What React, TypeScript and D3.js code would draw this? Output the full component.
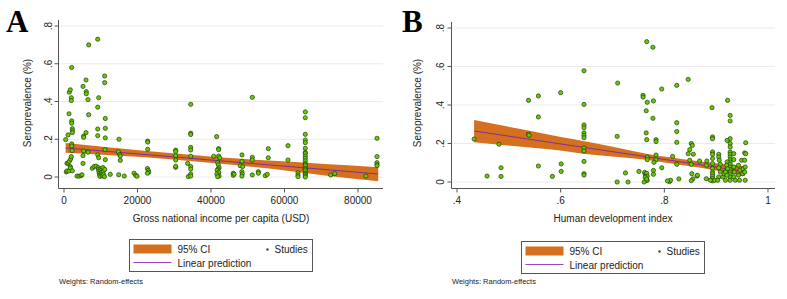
import React from 'react';
import * as d3 from 'd3';

// ---------- tick values ----------
const gniTicks = [0, 20000, 40000, 60000, 80000];
const gniTickLabels = ['0', '20000', '40000', '60000', '80000'];
const hdiTicks = [0.4, 0.6, 0.8, 1];
const hdiTickLabels = ['.4', '.6', '.8', '1'];
const seroTicks = [0, 0.2, 0.4, 0.6, 0.8];
const seroTickLabels = ['0', '.2', '.4', '.6', '.8'];

// ---------- panel A: GNI per capita vs seroprevalence ----------
const studiesA: [number, number][] = [
  [450, 0.198], [820, 0.072], [630, 0.027], [820, 0.032], [1090, 0.074], [1090, 0.223], [1360, 0.335],
  [1360, 0.032], [1440, 0.449], [1440, 0.083], [1720, 0.462], [1720, 0.055], [1720, 0.048], [1800, 0.095],
  [1990, 0.42], [1990, 0.405], [1990, 0.108], [2090, 0.58], [2090, 0.297], [2090, 0.285], [2090, 0.175],
  [2090, 0.164], [2270, 0.256], [2270, 0.245], [2270, 0.235], [2270, 0.033], [2200, 0.14],
  [3540, 0.005], [4080, 0.004], [4630, 0.007], [4900, 0.012], [5170, 0.48], [5170, 0.113], [5170, 0.072],
  [5350, 0.217], [5350, 0.21], [5350, 0.138], [5990, 0.514], [5990, 0.235], [6070, 0.452], [6070, 0.441],
  [6530, 0.41], [6530, 0.131], [6720, 0.70], [6720, 0.33], [7700, 0.046], [8160, 0.055], [8710, 0.058],
  [9170, 0.73], [9170, 0.37], [9170, 0.254], [9170, 0.219], [9170, 0.117], [9440, 0.42], [9440, 0.102],
  [9300, 0.05], [9400, 0.04], [9500, 0.03], [9600, 0.02], [9700, 0.01], [9800, 0.003], [10000, 0.045],
  [10100, 0.035], [10200, 0.025], [10300, 0.015], [10400, 0.006], [10600, 0.05], [10700, 0.03],
  [10800, 0.012], [11000, 0.002], [11100, 0.04],
  [11070, 0.535], [11070, 0.50], [11240, 0.31], [11240, 0.258], [11240, 0.207], [11150, 0.145], [11240, 0.092],
  [12600, 0.014], [14780, 0.134], [14880, 0.012], [14970, 0.2], [15160, 0.118], [15320, 0.111], [15320, 0.088],
  [16410, 0.005], [19050, 0.02], [19510, 0.009], [19860, 0.004],
  [22770, 0.19], [22770, 0.185], [22770, 0.147], [22700, 0.045], [22900, 0.035], [23050, 0.025], [22700, 0.02],
  [30390, 0.142], [30390, 0.135], [30390, 0.113], [30390, 0.09], [30390, 0.051], [30390, 0.057],
  [33650, 0.072], [33830, 0.002], [34480, 0.385], [34480, 0.232], [34480, 0.225], [34480, 0.157], [34480, 0.143],
  [34480, 0.11], [34480, 0.055], [34480, 0.042], [34480, 0.016], [34480, 0.005],
  [40730, 0.11], [41540, 0.214], [42080, 0.15], [42080, 0.145], [42080, 0.111], [42350, 0.102], [41800, 0.076],
  [42000, 0.065], [42200, 0.049], [41900, 0.042], [41700, 0.035], [42100, 0.024], [41600, 0.016], [42200, 0.005],
  [41800, 0.002],
  [46060, 0.02], [46060, 0.009], [46300, 0.015], [47970, 0.06], [48440, 0.117], [48440, 0.083], [48620, 0.055],
  [48400, 0.028], [48500, 0.017], [48400, 0.005],
  [51240, 0.422], [51240, 0.104], [51240, 0.09], [51240, 0.011], [52880, 0.028], [52880, 0.02], [54780, 0.007],
  [55320, 0.014], [55590, 0.15], [55590, 0.102],
  [60950, 0.166], [60950, 0.09], [63670, 0.023], [63670, 0.011], [63670, 0.002],
  [65660, 0.345], [65660, 0.314], [65660, 0.226], [65660, 0.196], [65660, 0.182], [65660, 0.152], [65660, 0.13],
  [65660, 0.125], [65660, 0.111], [65660, 0.099], [65660, 0.086], [65660, 0.072], [65660, 0.065], [65660, 0.06],
  [65660, 0.046], [65660, 0.04], [65660, 0.033], [65660, 0.02], [65660, 0.015], [65660, 0.007], [65660, 0.0],
  [72560, 0.011], [73650, 0.018], [82170, 0.005], [85170, 0.205], [85170, 0.108], [85170, 0.076],
  [85170, 0.065], [85170, 0.06],
];
const ciAx = [450, 14000, 28000, 42000, 57000, 71000, 85500];
const ciAhigh = [0.180, 0.153, 0.128, 0.104, 0.086, 0.069, 0.052];
const ciAlow = [0.128, 0.114, 0.096, 0.072, 0.042, 0.008, -0.022];
const fitAx = [450, 85500];
const fitAy = [0.154, 0.016];

// ---------- panel B: HDI vs seroprevalence ----------
const studiesB: [number, number][] = [
  [0.433, 0.223], [0.458, 0.031], [0.481, 0.196], [0.485, 0.074], [0.485, 0.029], [0.538, 0.424], [0.538, 0.248],
  [0.539, 0.243], [0.557, 0.447], [0.557, 0.338], [0.557, 0.083], [0.584, 0.029], [0.60, 0.464], [0.601, 0.094],
  [0.601, 0.055],
  [0.645, 0.578], [0.645, 0.403], [0.645, 0.296], [0.645, 0.282], [0.645, 0.255], [0.645, 0.242], [0.645, 0.23],
  [0.645, 0.177], [0.645, 0.161], [0.645, 0.107], [0.645, 0.043], [0.645, 0.036],
  [0.71, 0.514], [0.709, 0.237], [0.709, 0.0], [0.725, 0.047], [0.73, 0.0], [0.751, 0.055], [0.759, 0.45],
  [0.759, 0.441], [0.766, 0.729], [0.778, 0.70], [0.767, 0.414], [0.779, 0.421], [0.765, 0.37], [0.778, 0.331],
  [0.765, 0.255], [0.766, 0.22], [0.784, 0.22], [0.784, 0.21], [0.795, 0.483], [0.784, 0.14], [0.784, 0.116],
  [0.78, 0.102], [0.767, 0.13], [0.767, 0.116],
  [0.762, 0.05], [0.763, 0.04], [0.764, 0.03], [0.765, 0.02], [0.765, 0.01], [0.766, 0.045], [0.767, 0.03],
  [0.767, 0.008], [0.761, 0.0], [0.763, 0.025], [0.766, 0.015],
  [0.779, 0.06], [0.779, 0.04], [0.795, 0.074], [0.816, 0.133], [0.81, 0.002], [0.812, 0.009], [0.824, 0.502],
  [0.824, 0.308], [0.824, 0.262], [0.824, 0.206], [0.824, 0.092], [0.828, 0.016], [0.806, 0.006],
  [0.846, 0.533], [0.846, 0.147], [0.849, 0.168], [0.852, 0.2], [0.854, 0.19], [0.856, 0.144], [0.849, 0.113],
  [0.852, 0.092], [0.853, 0.043], [0.855, 0.016], [0.852, 0.007], [0.863, 0.031],
  [0.868, 0.109], [0.864, 0.035], [0.882, 0.109], [0.881, 0.087], [0.881, 0.017],
  [0.892, 0.386], [0.893, 0.234], [0.893, 0.225], [0.893, 0.156], [0.893, 0.144], [0.893, 0.122], [0.893, 0.096],
  [0.893, 0.07], [0.893, 0.052], [0.893, 0.043], [0.893, 0.03], [0.893, 0.018], [0.893, 0.006], [0.889, 0.009],
  [0.897, 0.009],
  [0.905, 0.144], [0.905, 0.13], [0.906, 0.113], [0.908, 0.092], [0.905, 0.074], [0.908, 0.052], [0.905, 0.026],
  [0.903, 0.009], [0.913, 0.026], [0.917, 0.052], [0.915, 0.043],
  [0.922, 0.424], [0.927, 0.346], [0.927, 0.317], [0.927, 0.225], [0.921, 0.216], [0.927, 0.2], [0.927, 0.182],
  [0.927, 0.156], [0.927, 0.144], [0.927, 0.13], [0.927, 0.116], [0.927, 0.104], [0.927, 0.092], [0.927, 0.078],
  [0.927, 0.065], [0.927, 0.052], [0.927, 0.04], [0.927, 0.026], [0.927, 0.009],
  [0.921, 0.104], [0.92, 0.087], [0.922, 0.069], [0.918, 0.052], [0.921, 0.035], [0.918, 0.009],
  [0.934, 0.147], [0.934, 0.116], [0.934, 0.078], [0.935, 0.052], [0.934, 0.026], [0.937, 0.009],
  [0.943, 0.087], [0.946, 0.061], [0.943, 0.035], [0.945, 0.009], [0.949, 0.113], [0.952, 0.069], [0.951, 0.043],
  [0.955, 0.151], [0.955, 0.113], [0.956, 0.078], [0.955, 0.052], [0.956, 0.009], [0.957, 0.204], [0.957, 0.147],
];
const ciBx = [0.433, 0.52, 0.603, 0.643, 0.70, 0.765, 0.81, 0.87, 0.955];
const ciBhigh = [0.322, 0.276, 0.232, 0.213, 0.183, 0.147, 0.128, 0.106, 0.082];
const ciBlow = [0.206, 0.184, 0.162, 0.147, 0.133, 0.116, 0.098, 0.074, 0.030];
const fitBx = [0.433, 0.955];
const fitBy = [0.265, 0.055];

const FONT = 'Liberation Sans, Arial, Helvetica, sans-serif';
const BAND = '#d5701f';
const LINE = '#7f2f9a';
const DOT = '#66cc00';
const DOT_EDGE = '#1f3a0a';

type PanelProps = {
  letter: string;
  letterX: number;
  studies: [number, number][];
  ciX: number[];
  ciHigh: number[];
  ciLow: number[];
  fitX: number[];
  fitY: number[];
  xDomain: [number, number];
  xRange: [number, number];
  yRange: [number, number];
  xTicks: number[];
  xTickLabels: string[];
  axisLeft: number;
  axisRight: number;
  axisTop: number;
  axisBottom: number;
  yTickLabelX: number;
  yTitleX: number;
  xTitle: string;
  xTitleX: number;
  legendX: number;
  legendY: number;
  weightsX: number;
};

function Panel(p: PanelProps) {
  const x = d3.scaleLinear().domain(p.xDomain).range(p.xRange);
  const y = d3.scaleLinear().domain([0, 0.8]).range(p.yRange);
  const ciData = p.ciX.map((v, i) => ({ x: v, lo: p.ciLow[i], hi: p.ciHigh[i] }));
  const area = d3
    .area<{ x: number; lo: number; hi: number }>()
    .x((d) => x(d.x))
    .y0((d) => y(d.lo))
    .y1((d) => y(d.hi))
    .curve(d3.curveMonotoneX);
  const line = d3
    .line<number>()
    .x((d) => x(d))
    .y((_, i) => y(p.fitY[i]));
  const lx = p.legendX;
  const ly = p.legendY;
  return (
    <g>
      <text x={p.letterX} y={32} fontFamily="Liberation Serif, Times New Roman, serif" fontWeight="bold" fontSize={31} fill="#000">
        {p.letter}
      </text>
      {seroTicks.map((t) => (
        <line key={'g' + t} x1={p.axisLeft} x2={p.axisRight} y1={y(t)} y2={y(t)} stroke="#ebebeb" strokeWidth={1} />
      ))}
      <path d={area(ciData) || ''} fill={BAND} />
      <path d={line(p.fitX) || ''} fill="none" stroke={LINE} strokeWidth={1} />
      {p.studies.map((d, i) => (
        <circle key={i} cx={x(d[0])} cy={y(d[1])} r={2.1} fill={DOT} stroke={DOT_EDGE} strokeWidth={0.7} />
      ))}
      {/* axes */}
      <line x1={p.axisLeft} x2={p.axisLeft} y1={p.axisTop} y2={p.axisBottom} stroke="#555" strokeWidth={1} />
      <line x1={p.axisLeft} x2={p.axisRight} y1={p.axisBottom} y2={p.axisBottom} stroke="#555" strokeWidth={1} />
      {seroTicks.map((t, i) => (
        <g key={'yt' + t}>
          <line x1={p.axisLeft - 4} x2={p.axisLeft} y1={y(t)} y2={y(t)} stroke="#555" strokeWidth={1} />
          <text
            transform={`translate(${p.yTickLabelX},${y(t)}) rotate(-90)`}
            textAnchor="middle"
            dy="0.35em"
            fontFamily={FONT}
            fontSize={10}
            fill="#222"
          >
            {seroTickLabels[i]}
          </text>
        </g>
      ))}
      {p.xTicks.map((t, i) => (
        <g key={'xt' + t}>
          <line x1={x(t)} x2={x(t)} y1={p.axisBottom} y2={p.axisBottom + 4} stroke="#555" strokeWidth={1} />
          <text x={x(t)} y={204} textAnchor="middle" fontFamily={FONT} fontSize={10} fill="#222">
            {p.xTickLabels[i]}
          </text>
        </g>
      ))}
      <text
        transform={`translate(${p.yTitleX},103) rotate(-90)`}
        textAnchor="middle"
        dy="0.35em"
        fontFamily={FONT}
        fontSize={10}
        fill="#222"
      >
        Seroprevalence (%)
      </text>
      <text x={p.xTitleX} y={222} textAnchor="middle" fontFamily={FONT} fontSize={10} fill="#222">
        {p.xTitle}
      </text>
      {/* legend */}
      <rect x={lx} y={ly} width={183} height={32} fill="#fff" stroke="#555" strokeWidth={1} />
      <rect x={lx + 4} y={ly + 5} width={38} height={9} fill={BAND} />
      <text x={lx + 48} y={ly + 13} fontFamily={FONT} fontSize={10} fill="#222">95% CI</text>
      <circle cx={lx + 138} cy={ly + 10} r={1.2} fill="#2e5d12" />
      <text x={lx + 145} y={ly + 13} fontFamily={FONT} fontSize={10} fill="#222">Studies</text>
      <line x1={lx + 4} x2={lx + 42} y1={ly + 23} y2={ly + 23} stroke="#9b45c4" strokeWidth={1} />
      <text x={lx + 48} y={ly + 27} fontFamily={FONT} fontSize={10} fill="#222">Linear prediction</text>
      <text x={p.weightsX} y={284} fontFamily={FONT} fontSize={7.5} fill="#222">Weights: Random-effects</text>
    </g>
  );
}

export default function App() {
  return (
    <svg
      width={787}
      height={299}
      viewBox="0 0 787 299"
      style={{ position: 'absolute', left: 0, top: 0, background: '#fff' }}
    >
      <rect x={0} y={0} width={787} height={299} fill="#fff" />
      <Panel
        letter="A"
        letterX={6}
        studies={studiesA}
        ciX={ciAx}
        ciHigh={ciAhigh}
        ciLow={ciAlow}
        fitX={fitAx}
        fitY={fitAy}
        xDomain={[0, 80000]}
        xRange={[64, 358]}
        yRange={[177, 26]}
        xTicks={gniTicks}
        xTickLabels={gniTickLabels}
        axisLeft={58.5}
        axisRight={383}
        axisTop={20}
        axisBottom={188.5}
        yTickLabelX={48}
        yTitleX={27}
        xTitle="Gross national income per capita (USD)"
        xTitleX={221}
        legendX={129.5}
        legendY={239.5}
        weightsX={59}
      />
      <Panel
        letter="B"
        letterX={402}
        studies={studiesB}
        ciX={ciBx}
        ciHigh={ciBhigh}
        ciLow={ciBlow}
        fitX={fitBx}
        fitY={fitBy}
        xDomain={[0.4, 1]}
        xRange={[457, 768]}
        yRange={[182, 28]}
        xTicks={hdiTicks}
        xTickLabels={hdiTickLabels}
        axisLeft={451.5}
        axisRight={775}
        axisTop={22}
        axisBottom={188.5}
        yTickLabelX={440}
        yTitleX={417}
        xTitle="Human development index"
        xTitleX={613}
        legendX={521.5}
        legendY={241.5}
        weightsX={452}
      />
    </svg>
  );
}
